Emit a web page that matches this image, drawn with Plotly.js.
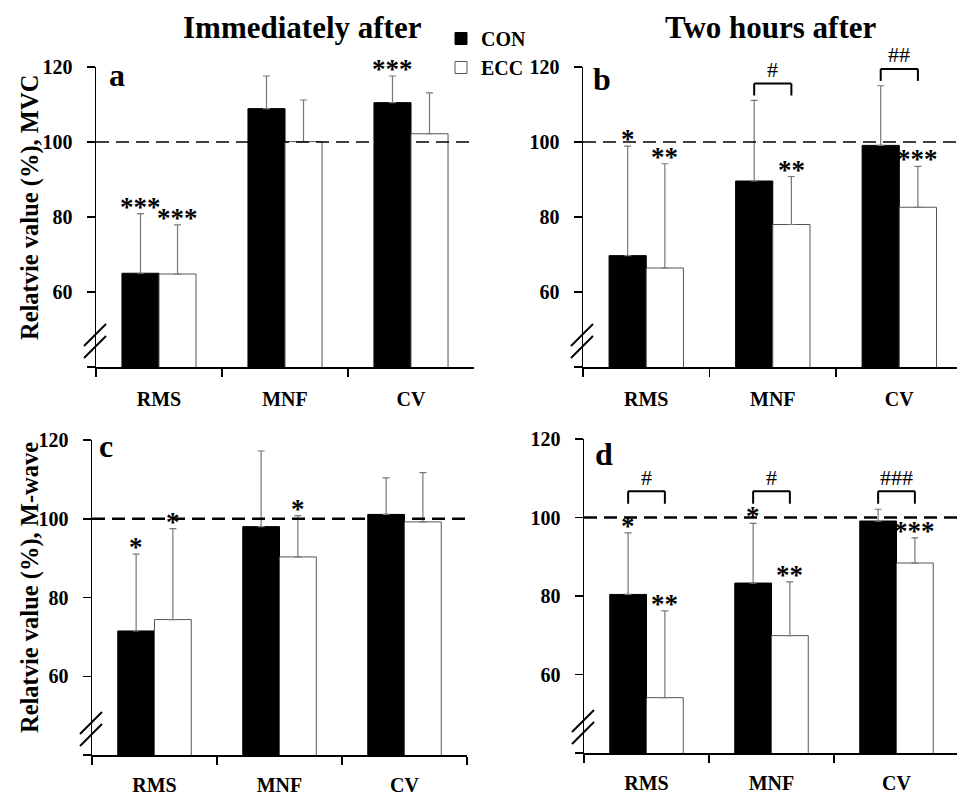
<!DOCTYPE html>
<html><head><meta charset="utf-8">
<script src="https://cdn.plot.ly/plotly-3.0.1.min.js"></script>
<style>html,body{margin:0;padding:0;background:#fff}#chart{width:957px;height:798px}</style>
</head><body><div id="chart"></div>
<script>
// ---------- data ----------
const categories = ['RMS', 'MNF', 'CV'];
const yTickVals = [40, 60, 80, 100, 120];
const yTickText = ['', '60', '80', '100', '120'];

// (a) MVC, immediately after
const mvcImmCON = [65.0, 108.9, 110.5];
const mvcImmCONsd = [15.9, 8.7, 7.1];
const mvcImmECC = [64.8, 100.1, 102.2];
const mvcImmECCsd = [13.1, 11.1, 10.9];
// (b) MVC, two hours after
const mvc2hCON = [69.7, 89.6, 99.1];
const mvc2hCONsd = [29.2, 21.5, 15.9];
const mvc2hECC = [66.4, 78.0, 82.6];
const mvc2hECCsd = [27.8, 12.8, 10.9];
// (c) M-wave, immediately after
const mwImmCON = [71.5, 98.0, 101.1];
const mwImmCONsd = [19.5, 19.2, 9.3];
const mwImmECC = [74.4, 90.3, 99.2];
const mwImmECCsd = [23.1, 10.5, 12.5];
// (d) M-wave, two hours after
const mw2hCON = [80.4, 83.3, 99.1];
const mw2hCONsd = [15.7, 15.2, 3.0];
const mw2hECC = [54.1, 69.9, 88.4];
const mw2hECCsd = [22.1, 13.7, 6.4];

// significance markers (vs. baseline) and between-group markers
const sigImmMvcCON = ['***', '', '***'];
const sigImmMvcECC = ['***', '', ''];
const sig2hMvcCON = ['*', '', ''];
const sig2hMvcECC = ['**', '**', '***'];
const sigImmMwCON = ['*', '', ''];
const sigImmMwECC = ['*', '*', ''];
const sig2hMwCON = ['*', '*', ''];
const sig2hMwECC = ['**', '**', '***'];
const between2hMvc = ['', '#', '##'];
const between2hMw = ['#', '#', '###'];

// ---------- layout config ----------
const W = 957, H = 798;
const FONT = 'Liberation Serif, Times New Roman, serif';
const BARGAP = 0.412;
const halfBar = (1 - BARGAP) / 4;
const px = x => x / W, py = y => 1 - y / H;

const panels = [
  {letter: 'a', lx: 107, ly: 75, xpx: [96, 474], ypx: [67, 367], xmax: 2.5, xStand: 13, dashW: 1.3,
   con: mvcImmCON, conSd: mvcImmCONsd, ecc: mvcImmECC, eccSd: mvcImmECCsd, sigCon: sigImmMvcCON, sigEcc: sigImmMvcECC, between: null},
  {letter: 'b', lx: 591, ly: 79, xpx: [583, 957], ypx: [67, 367], xmax: 2.456, xStand: 13, dashW: 1.3,
   con: mvc2hCON, conSd: mvc2hCONsd, ecc: mvc2hECC, eccSd: mvc2hECCsd, sigCon: sig2hMvcCON, sigEcc: sig2hMvcECC, between: between2hMvc, bracketFixed: null},
  {letter: 'c', lx: 97, ly: 446, xpx: [92, 467], ypx: [440, 755], xmax: 2.5, xStand: 11, dashW: 2.3,
   con: mwImmCON, conSd: mwImmCONsd, ecc: mwImmECC, eccSd: mwImmECCsd, sigCon: sigImmMwCON, sigEcc: sigImmMwECC, between: null},
  {letter: 'd', lx: 593, ly: 454, xpx: [584, 957], ypx: [439, 753], xmax: 2.484, xStand: 11, dashW: 2.3,
   con: mw2hCON, conSd: mw2hCONsd, ecc: mw2hECC, eccSd: mw2hECCsd, sigCon: sig2hMwCON, sigEcc: sig2hMwECC, between: between2hMw, bracketFixed: 106.7}
];

const traces = [], shapes = [], annotations = [];
const layout = {
  width: W, height: H,
  margin: {l: 0, r: 0, t: 0, b: 0},
  paper_bgcolor: '#fff', plot_bgcolor: '#fff',
  barmode: 'group', bargap: BARGAP, bargroupgap: 0,
  font: {family: FONT, color: '#000'},
  showlegend: true,
  legend: {x: px(441), y: py(19), xanchor: 'left', yanchor: 'top', bgcolor: 'rgba(0,0,0,0)',
           font: {family: FONT, size: 20, color: '#000', weight: 'bold'}, itemwidth: 30, traceorder: 'normal'}
};

panels.forEach((p, k) => {
  const sx = k === 0 ? '' : String(k + 1);
  const xa = 'x' + sx, ya = 'y' + sx;
  const zeros = p.con.map(() => 0);
  traces.push({
    type: 'bar', name: 'CON', x: categories, y: p.con, xaxis: xa, yaxis: ya,
    offsetgroup: 'con', showlegend: k === 0, hoverinfo: 'skip',
    marker: {color: '#000', line: {color: '#000', width: 1}},
    error_y: {type: 'data', symmetric: false, array: p.conSd, arrayminus: zeros, color: '#777', thickness: 1.2, width: 3.5}
  });
  traces.push({
    type: 'bar', name: 'ECC', x: categories, y: p.ecc, xaxis: xa, yaxis: ya,
    offsetgroup: 'ecc', showlegend: k === 0, hoverinfo: 'skip',
    marker: {color: '#fff', line: {color: '#555', width: 1}},
    error_y: {type: 'data', symmetric: false, array: p.eccSd, arrayminus: zeros, color: '#777', thickness: 1.2, width: 3.5}
  });

  layout['xaxis' + sx] = {
    domain: [px(p.xpx[0]), px(p.xpx[1])], anchor: ya, type: 'category', range: [-0.5, p.xmax],
    showline: true, linecolor: '#000', linewidth: 1.8, ticks: 'outside', tickson: 'boundaries',
    ticklen: 8, tickwidth: 1.5, tickcolor: '#000', showgrid: false, zeroline: false,
    tickfont: {family: FONT, size: 20, color: '#000', weight: 'bold'}, ticklabelstandoff: p.xStand,
    fixedrange: true, automargin: false
  };
  layout['yaxis' + sx] = {
    domain: [py(p.ypx[1]), py(p.ypx[0])], anchor: xa, range: [40, 120],
    tickmode: 'array', tickvals: yTickVals, ticktext: yTickText,
    showline: true, linecolor: '#000', linewidth: 1.5, ticks: 'outside', ticklen: 8, tickwidth: 1.5,
    tickcolor: '#000', showgrid: false, zeroline: false,
    tickfont: {family: FONT, size: 20, color: '#000', weight: 'bold'}, ticklabelstandoff: 10,
    fixedrange: true, automargin: false
  };

  // dashed reference line at 100 %
  shapes.push({type: 'line', xref: xa, yref: ya, x0: -0.5, x1: 2.6, y0: 100, y1: 100,
               line: {color: '#000', width: p.dashW, dash: '13px,7px'}, layer: 'above'});

  // axis break marks
  const ax0 = p.xpx[0], bot = p.ypx[1];
  [[-12, -21, 10, -43], [-12, -9, 10, -31]].forEach(s => {
    shapes.push({type: 'line', xref: 'paper', yref: 'paper',
                 x0: px(ax0 + s[0]), y0: py(bot + s[1]), x1: px(ax0 + s[2]), y1: py(bot + s[3]),
                 line: {color: '#000', width: 2}});
  });

  // significance stars
  const addSig = (texts, vals, sds, off) => texts.forEach((t, i) => {
    if (!t) return;
    annotations.push({xref: xa, yref: ya, x: i + off, y: vals[i] + sds[i], text: t, showarrow: false,
                      xanchor: 'center', yanchor: 'middle', yshift: 7,
                      font: {family: FONT, size: 27, color: '#000', weight: 'bold'}});
  });
  addSig(p.sigCon, p.con, p.conSd, -halfBar);
  addSig(p.sigEcc, p.ecc, p.eccSd, halfBar);

  // between-group brackets
  if (p.between) p.between.forEach((t, i) => {
    if (!t) return;
    const top = p.bracketFixed != null ? p.bracketFixed :
      Math.max(p.con[i] + p.conSd[i], p.ecc[i] + p.eccSd[i]) + 4.5;
    const leg = 3.2, xl = i - halfBar, xr = i + halfBar;
    const ln = {color: '#000', width: 2};
    shapes.push({type: 'line', xref: xa, yref: ya, x0: xl, x1: xl, y0: top - leg, y1: top, line: ln});
    shapes.push({type: 'line', xref: xa, yref: ya, x0: xl, x1: xr, y0: top, y1: top, line: ln});
    shapes.push({type: 'line', xref: xa, yref: ya, x0: xr, x1: xr, y0: top - leg, y1: top, line: ln});
    annotations.push({xref: xa, yref: ya, x: i, y: top, text: t, showarrow: false,
                      xanchor: 'center', yanchor: 'middle', yshift: 14,
                      font: {family: FONT, size: 22, color: '#000'}});
  });

  // panel letter
  annotations.push({xref: 'paper', yref: 'paper', x: px(p.lx), y: py(p.ly), text: p.letter, showarrow: false,
                    xanchor: 'left', yanchor: 'middle', font: {family: FONT, size: 32, color: '#000', weight: 'bold'}});
});

// column titles
[['Immediately after', 302], ['Two hours after', 770]].forEach(t => {
  annotations.push({xref: 'paper', yref: 'paper', x: px(t[1]), y: py(27), text: t[0], showarrow: false,
                    xanchor: 'center', yanchor: 'middle', font: {family: FONT, size: 31, color: '#000', weight: 'bold'}});
});
// y-axis titles
[['Relatvie value (%), MVC', 208], ['Relatvie value (%), M-wave', 588]].forEach(t => {
  annotations.push({xref: 'paper', yref: 'paper', x: px(30), y: py(t[1]), text: t[0], showarrow: false,
                    textangle: -90, xanchor: 'center', yanchor: 'middle',
                    font: {family: FONT, size: 24.5, color: '#000', weight: 'bold'}});
});

layout.shapes = shapes;
layout.annotations = annotations;
Plotly.newPlot('chart', traces, layout, {displayModeBar: false, staticPlot: true});
</script>
</body></html>
